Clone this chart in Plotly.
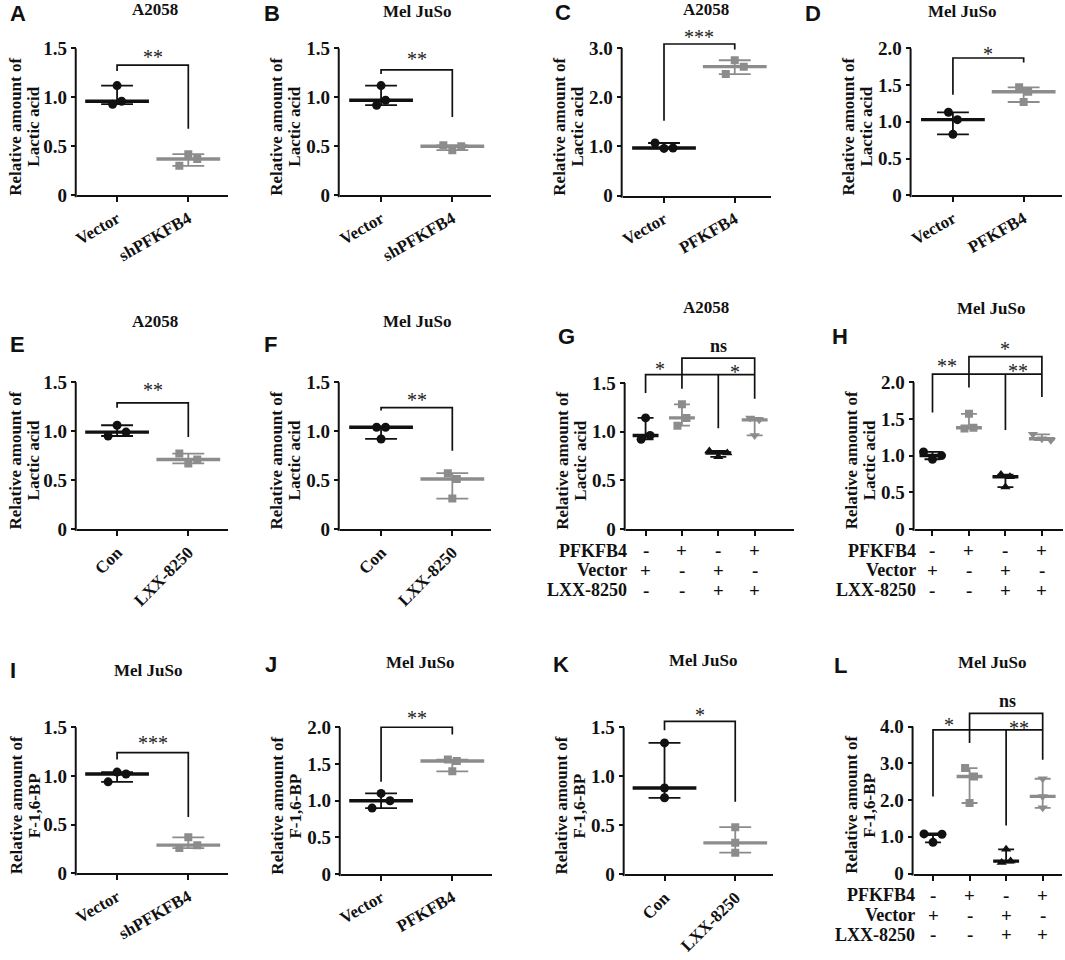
import numpy as np
import plotly.graph_objects as go

W, H = 1065, 960
BLACK = "#111111"
GREY = "#8c8c8c"
SERIF = "Liberation Serif"
SANS = "Liberation Sans"

# ---- values ----
# two-group panels: the three replicates per group, the significance bracket
# [bar height, left leg end, right leg end] and the star label [text, height]
A_VECTOR = [1.12, 0.93, 0.96]
A_SHPFKFB4 = [0.30, 0.42, 0.37]
A_BRACKET = [1.33, 1.27, 0.68]
A_SIG = ["**", 1.46]

B_VECTOR = [1.12, 0.92, 0.97]
B_SHPFKFB4 = [0.51, 0.46, 0.50]
B_BRACKET = [1.28, 1.24, 0.80]
B_SIG = ["**", 1.44]

C_VECTOR = [1.07, 0.96, 0.97]
C_PFKFB4 = [2.47, 2.75, 2.62]
C_BRACKET = [3.08, 1.52, 2.97]
C_SIG = ["***", 3.33]

D_VECTOR = [1.13, 1.03, 0.83]
D_PFKFB4 = [1.47, 1.41, 1.27]
D_BRACKET = [1.87, 1.37, 1.81]
D_SIG = ["*", 1.99]

E_CON = [0.95, 1.06, 0.99]
E_LXX = [0.77, 0.67, 0.71]
E_BRACKET = [1.29, 1.24, 0.94]
E_SIG = ["**", 1.47]

F_CON = [1.04, 0.92, 1.04]
F_LXX = [0.57, 0.51, 0.31]
F_BRACKET = [1.24, 1.21, 0.80]
F_SIG = ["**", 1.37]

I_VECTOR = [0.94, 1.04, 1.02]
I_SHPFKFB4 = [0.26, 0.37, 0.29]
I_BRACKET = [1.24, 1.17, 0.58]
I_SIG = ["***", 1.39]

J_VECTOR = [0.90, 1.10, 1.00]
J_PFKFB4 = [1.56, 1.54, 1.40]
J_BRACKET = [2.00, 1.26, 1.90]
J_SIG = ["**", 2.19]

K_CON = [1.34, 0.88, 0.78]
K_LXX = [0.48, 0.32, 0.22]
K_BRACKET = [1.56, 1.47, 0.74]
K_SIG = ["*", 1.675]

# four-group panels; bracket = [lower bar, upper bar, leg ends of groups 1..4]
G_GROUPS = [[1.14, 0.92, 0.96], [1.28, 1.06, 1.14], [0.80, 0.74, 0.78], [1.14, 0.96, 1.12]]
G_BRACKET = [1.585, 1.754, 1.395, 1.44, 1.033, 1.337]
G_SIGS = [["*", 0.4, 1.69], ["ns", 2.0, 1.88], ["*", 2.45, 1.66]]

H_GROUPS = [[1.05, 0.95, 1.00], [1.57, 1.37, 1.38], [0.74, 0.57, 0.71], [1.29, 1.23, 1.21]]
H_BRACKET = [2.11, 2.35, 1.587, 1.93, 1.35, 1.80]
H_SIGS = [["**", 0.4, 2.29], ["*", 2.0, 2.52], ["**", 2.35, 2.22]]

L_GROUPS = [[1.08, 0.85, 1.07], [2.87, 2.64, 1.92], [0.66, 0.30, 0.34], [2.58, 2.10, 1.79]]
L_BRACKET = [3.91, 4.36, 2.10, 3.55, 1.31, 3.10]
L_SIGS = [["*", 0.45, 4.18], ["ns", 2.05, 4.69], ["**", 2.35, 4.09]]

TABLE_ROWS = ["PFKFB4", "Vector", "LXX-8250"]
TABLE_SIGNS = [["-", "+", "-", "+"], ["+", "-", "+", "-"], ["-", "-", "+", "+"]]

TICKS_15 = [0, 0.5, 1.0, 1.5]
TICKS_20 = [0, 0.5, 1.0, 1.5, 2.0]
TICKS_30 = [0, 1.0, 2.0, 3.0]
TICKS_40 = [0, 1.0, 2.0, 3.0, 4.0]

LACTIC = ["Relative amount of", "Lactic acid"]
FBP = ["Relative amount of", "F-1,6-BP"]

PANELS = [
    dict(letter="A", title="A2058", ylab=LACTIC, ticks=TICKS_15, cats=["Vector", "shPFKFB4"],
         groups=[A_VECTOR, A_SHPFKFB4], bracket=A_BRACKET, sig=A_SIG, angle=-30),
    dict(letter="B", title="Mel JuSo", ylab=LACTIC, ticks=TICKS_15, cats=["Vector", "shPFKFB4"],
         groups=[B_VECTOR, B_SHPFKFB4], bracket=B_BRACKET, sig=B_SIG, angle=-30),
    dict(letter="C", title="A2058", ylab=LACTIC, ticks=TICKS_30, cats=["Vector", "PFKFB4"],
         groups=[C_VECTOR, C_PFKFB4], bracket=C_BRACKET, sig=C_SIG, angle=-30),
    dict(letter="D", title="Mel JuSo", ylab=LACTIC, ticks=TICKS_20, cats=["Vector", "PFKFB4"],
         groups=[D_VECTOR, D_PFKFB4], bracket=D_BRACKET, sig=D_SIG, angle=-30),
    dict(letter="E", title="A2058", ylab=LACTIC, ticks=TICKS_15, cats=["Con", "LXX-8250"],
         groups=[E_CON, E_LXX], bracket=E_BRACKET, sig=E_SIG, angle=-45),
    dict(letter="F", title="Mel JuSo", ylab=LACTIC, ticks=TICKS_15, cats=["Con", "LXX-8250"],
         groups=[F_CON, F_LXX], bracket=F_BRACKET, sig=F_SIG, angle=-45),
    dict(letter="G", title="A2058", ylab=LACTIC, ticks=TICKS_15, cats=None,
         groups=G_GROUPS, bracket=G_BRACKET, sig=G_SIGS),
    dict(letter="H", title="Mel JuSo", ylab=LACTIC, ticks=TICKS_20, cats=None,
         groups=H_GROUPS, bracket=H_BRACKET, sig=H_SIGS),
    dict(letter="I", title="Mel JuSo", ylab=FBP, ticks=TICKS_15, cats=["Vector", "shPFKFB4"],
         groups=[I_VECTOR, I_SHPFKFB4], bracket=I_BRACKET, sig=I_SIG, angle=-30),
    dict(letter="J", title="Mel JuSo", ylab=FBP, ticks=TICKS_20, cats=["Vector", "PFKFB4"],
         groups=[J_VECTOR, J_PFKFB4], bracket=J_BRACKET, sig=J_SIG, angle=-30),
    dict(letter="K", title="Mel JuSo", ylab=FBP, ticks=TICKS_15, cats=["Con", "LXX-8250"],
         groups=[K_CON, K_LXX], bracket=K_BRACKET, sig=K_SIG, angle=-45),
    dict(letter="L", title="Mel JuSo", ylab=FBP, ticks=TICKS_40, cats=None,
         groups=L_GROUPS, bracket=L_BRACKET, sig=L_SIGS),
]

# ---- layout in pixels: y axis x, first category x, category step, x axis end,
# zero line y, top tick y ----
GEOM = {
    "A": (73, 113.5, 71.5, 225, 197.5, 49),
    "B": (337, 378.5, 71.5, 489, 197.5, 49),
    "C": (621, 662.5, 71, 770, 198, 48.5),
    "D": (911, 952.5, 71, 1062, 197.5, 49),
    "E": (73, 113.5, 71.5, 225, 535, 386.7),
    "F": (337, 378.5, 71.5, 489, 535, 386.7),
    "G": (624, 644, 36.5, 793, 535, 387.3),
    "H": (914, 932, 36.6, 1063, 535, 386.7),
    "I": (73, 113.5, 71.5, 225, 883.5, 735.7),
    "J": (338, 378.5, 71.5, 490, 884.3, 735.7),
    "K": (623, 663, 71, 772, 884.3, 735.7),
    "L": (913, 932.5, 36.7, 1062, 883.7, 735),
}
TITLE_POS = {"A": (152, 10), "B": (415, 12), "C": (705, 10), "D": (962, 12),
             "E": (152, 325), "F": (415, 325), "G": (705, 311), "H": (991, 312),
             "I": (145, 678), "J": (418, 670), "K": (702, 668), "L": (992, 670)}
LETTER_POS = {"A": (4, 14), "B": (259, 14), "C": (551, 13), "D": (802, 14),
              "E": (4, 348), "F": (259, 348), "G": (554, 340), "H": (829, 340),
              "I": (4, 678), "J": (260, 672), "K": (549, 672), "L": (831, 673)}


def px(x):
    return x / W


def py(y):
    return 1 - y / H


def spread(values, ypx, step, gap=9.0):
    # prism-like scatter: points closer than a marker are pushed sideways
    v = np.asarray(values, float)
    order = np.argsort(v, kind="stable")
    clusters, cur = [], [order[0]]
    for a, b in zip(order[:-1], order[1:]):
        if (v[b] - v[a]) * ypx < gap:
            cur.append(b)
        else:
            clusters.append(cur)
            cur = [b]
    clusters.append(cur)
    off = np.zeros(len(v))
    for c in clusters:
        c = sorted(c)
        for k, idx in enumerate(c):
            off[idx] = (k - (len(c) - 1) / 2) * gap / step
    return off


def tick_text(v):
    return "0" if v == 0 else f"{v:.1f}"


bold = dict(family=SERIF, color=BLACK, weight="bold")
fig = go.Figure()
axes, shapes, annots = {}, [], []

for n, p in enumerate(PANELS, start=1):
    axis, cat0, step, end, y0, ytop = GEOM[p["letter"]]
    xa, ya = ("x", "y") if n == 1 else (f"x{n}", f"y{n}")
    top = p["ticks"][-1]
    head = ytop - 45
    ymax = top * (y0 - head) / (y0 - ytop)
    ypx = (y0 - ytop) / top
    four = p["cats"] is None
    ng = len(p["groups"])

    xdict = dict(domain=[px(axis), px(end)], range=[(axis - cat0) / step, (end - cat0) / step],
                 anchor=ya, showgrid=False, zeroline=False, showline=True, linecolor=BLACK,
                 linewidth=2, ticks="outside", ticklen=5, tickwidth=2, tickcolor=BLACK,
                 tickvals=list(range(ng)), fixedrange=True)
    if four:
        xdict["showticklabels"] = False
    else:
        xdict.update(ticktext=p["cats"], tickangle=p["angle"], tickfont=dict(size=17, **bold))
    axes["xaxis" + xa[1:]] = xdict
    axes["yaxis" + ya[1:]] = dict(
        domain=[py(y0), py(head)], range=[0, ymax], anchor=xa, showgrid=False, zeroline=False,
        showline=False, ticks="outside", ticklen=5, tickwidth=2, tickcolor=BLACK,
        tickvals=p["ticks"], ticktext=[tick_text(t) for t in p["ticks"]],
        tickfont=dict(size=19, **bold), fixedrange=True)

    # y axis line only up to the top tick
    shapes.append(dict(type="line", xref="paper", yref="paper", x0=px(axis - 1), x1=px(axis - 1),
                       y0=py(y0 + 2), y1=py(ytop), line=dict(color=BLACK, width=2)))

    if four:
        colors = [BLACK, GREY, BLACK, GREY]
        symbols = ["circle", "square", "triangle-up", "triangle-down"]
        sizes = [9, 8, 9, 9]
        cap_px, med_px = 8, 13
    else:
        colors = [BLACK, GREY]
        symbols = ["circle", "square"]
        sizes = [9, 8]
        cap_px, med_px = 16, 32

    for g, vals in enumerate(p["groups"]):
        vals = np.asarray(vals, float)
        col = colors[g]
        lo, hi, med = vals.min(), vals.max(), np.median(vals)
        cw, mw = cap_px / step, med_px / step
        fig.add_trace(go.Scatter(
            x=[g, g, None, g - cw, g + cw, None, g - cw, g + cw],
            y=[lo, hi, None, lo, lo, None, hi, hi],
            mode="lines", line=dict(color=col, width=1.8), xaxis=xa, yaxis=ya,
            hoverinfo="skip", showlegend=False))
        fig.add_trace(go.Scatter(
            x=[g - mw, g + mw], y=[med, med], mode="lines", line=dict(color=col, width=3.4),
            xaxis=xa, yaxis=ya, hoverinfo="skip", showlegend=False))
        fig.add_trace(go.Scatter(
            x=g + spread(vals, ypx, step), y=vals, mode="markers",
            marker=dict(symbol=symbols[g], size=sizes[g], color=col, line=dict(width=0)),
            xaxis=xa, yaxis=ya, showlegend=False))

    b = p["bracket"]
    if four:
        low, up, e0, e1, e2, e3 = b
        bx = [0, 0, 3, None, 1, 1, 3, 3, None, 2, 2]
        by = [e0, low, low, None, e1, up, up, e3, None, low, e2]
        sigs = p["sig"]
    else:
        bx = [0, 0, 1, 1]
        by = [b[1], b[0], b[0], b[2]]
        sigs = [[p["sig"][0], 0.5, p["sig"][1]]]
    fig.add_trace(go.Scatter(x=bx, y=by, mode="lines", line=dict(color=BLACK, width=1.7),
                             xaxis=xa, yaxis=ya, hoverinfo="skip", showlegend=False))
    for text, sx, sy in sigs:
        star = text.startswith("*")
        annots.append(dict(
            x=sx, y=sy, xref=xa, yref=ya, text=text,
            showarrow=False, xanchor="center", yanchor="middle", yshift=-5 if star else 0,
            font=dict(family=SERIF, size=20, color="#222222") if star else dict(size=18, **bold)))

    if four:
        for r, (row, signs) in enumerate(zip(TABLE_ROWS, TABLE_SIGNS)):
            yy = py(y0 + 22 + 20 * r)
            annots.append(dict(x=px(axis + 3), y=yy, xref="paper", yref="paper", text=row,
                               showarrow=False, xanchor="right", yanchor="middle",
                               font=dict(size=18, **bold)))
            for g, s in enumerate(signs):
                annots.append(dict(x=g, y=yy, xref=xa, yref="paper", text=s, showarrow=False,
                                   xanchor="center", yanchor="middle", font=dict(size=19, **bold)))

    # y axis title (two rotated lines), panel title, panel letter
    for k, line in enumerate(p["ylab"]):
        lxp = max(axis - 63, 12) + 18 * k
        annots.append(dict(x=px(lxp), y=py((y0 + ytop) / 2 + 5), xref="paper", yref="paper",
                           text=line, textangle=-90, showarrow=False, xanchor="center",
                           yanchor="middle", font=dict(size=17, **bold)))
    tx, ty = TITLE_POS[p["letter"]]
    annots.append(dict(x=px(tx), y=py(ty), xref="paper", yref="paper", text=p["title"],
                       showarrow=False, xanchor="center", yanchor="middle",
                       font=dict(size=17, **bold)))
    lx, ly = LETTER_POS[p["letter"]]
    annots.append(dict(x=px(lx), y=py(ly), xref="paper", yref="paper", text=p["letter"],
                       showarrow=False, xanchor="left", yanchor="middle",
                       font=dict(family=SANS, size=22, color=BLACK, weight="bold")))

fig.update_layout(
    width=W, height=H, autosize=False,
    margin=dict(l=0, r=0, t=0, b=0),
    paper_bgcolor="white", plot_bgcolor="white",
    showlegend=False, shapes=shapes, annotations=annots,
    **axes,
)
fig.write_html("out.html", config={"displayModeBar": False},
               post_script="document.body.style.margin='0px';")
